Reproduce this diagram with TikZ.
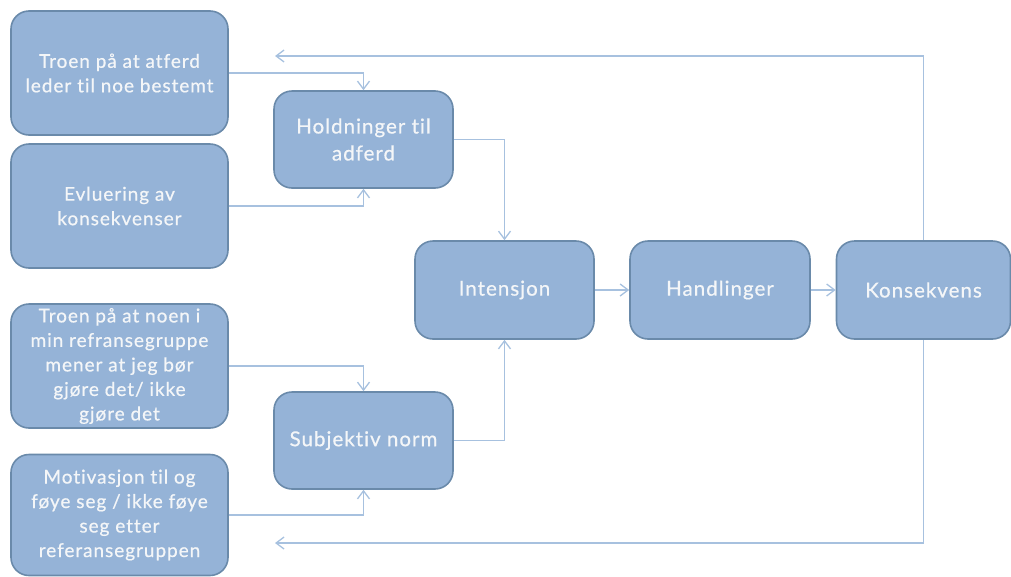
\documentclass[tikz,border=0pt]{standalone}
\usepackage{fontspec}
\setmainfont{Lato}[LetterSpace=5,FakeBold=0.6,Ligatures={NoCommon,NoDiscretionary,NoRare}]
\usetikzlibrary{arrows.meta}
\definecolor{boxfill}{HTML}{95B3D7}
\definecolor{boxline}{HTML}{6A8AAA}
\definecolor{conn}{HTML}{A7C1DF}
\definecolor{txt}{HTML}{F4F6F8}
\tikzset{
  box/.style={draw=boxline, line width=1.6pt, fill=boxfill, rounded corners=18pt,
    text=txt, align=center, inner sep=2pt, font=\fontsize{19}{24.5}\selectfont},
  bigbox/.style={box, font=\fontsize{20.5}{27}\selectfont},
  arr/.style={draw=conn, line width=1.3pt, -{Straight Barb[length=8pt,width=12pt]}}
}
\begin{document}
\begin{tikzpicture}[x=1pt,y=-1pt]
\useasboundingbox (0,0) rectangle (1011,576);
\node[box, minimum width=217pt, minimum height=124pt] (A) at (119.5,73) {Troen på at atferd\\leder til noe bestemt};
\node[box, minimum width=217pt, minimum height=124pt] (B) at (119.5,206) {Evluering av\\konsekvenser};
\node[box, minimum width=217pt, minimum height=124pt] (C) at (119.5,366) {Troen på at noen i\\min refransegruppe\\mener at jeg bør\\gjøre det/ ikke\\gjøre det};
\node[box, minimum width=217pt, minimum height=121pt] (D) at (119.5,515) {Motivasjon til og\\føye seg / ikke føye\\seg etter\\referansegruppen};
\node[bigbox, minimum width=179pt, minimum height=97pt] (H) at (363.5,139.5) {Holdninger til\\adferd};
\node[bigbox, minimum width=179pt, minimum height=97pt] (S) at (363.5,440.5) {Subjektiv norm};
\node[bigbox, minimum width=179pt, minimum height=98pt] (I) at (504.5,290) {Intensjon};
\node[bigbox, minimum width=180pt, minimum height=98pt] (Hd) at (720,290) {Handlinger};
\node[bigbox, minimum width=174pt, minimum height=98pt] (K) at (923.5,290) {Konsekvens};
\coordinate (ftop) at (275,56);
\coordinate (fbot) at (275,543);
\draw[arr] (A.east) -| (H.north);
\draw[arr] (B.east) -| (H.south);
\draw[arr] (C.east) -| (S.north);
\draw[arr] (D.east) -| (S.south);
\draw[arr] (H.east) -| (I.north);
\draw[arr] (S.east) -| (I.south);
\draw[arr] (I.east) -- (Hd.west);
\draw[arr] (Hd.east) -- (K.west);
\draw[arr] (K.north) |- (ftop);
\draw[arr] (K.south) |- (fbot);
\end{tikzpicture}
\end{document}
